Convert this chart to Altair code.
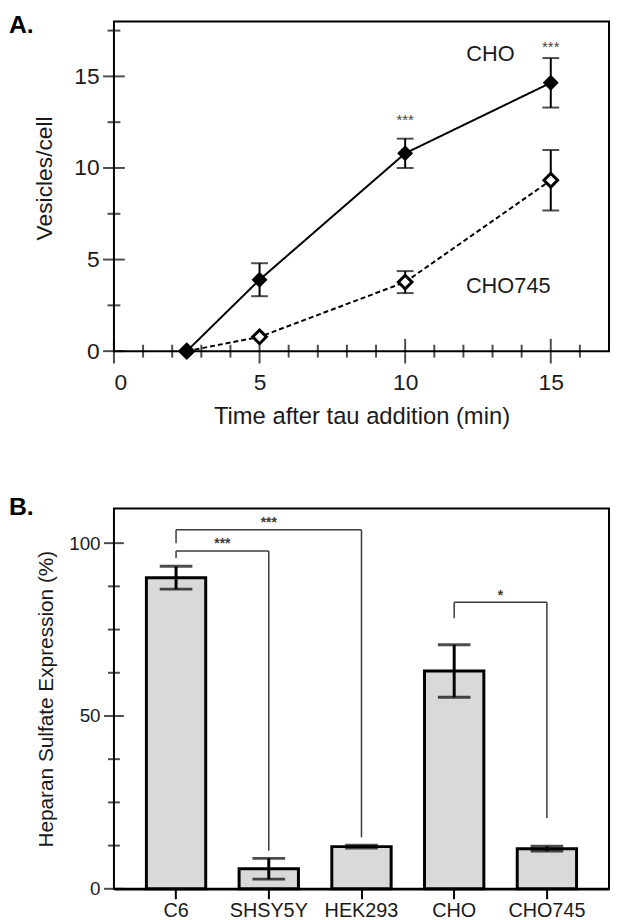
import altair as alt
import pandas as pd

# ---------------- Panel A data ----------------
times = [2.5, 5, 10, 15]
cho_mean = [0.0, 3.9, 10.8, 14.65]
cho_sem = [0.0, 0.9, 0.8, 1.35]
cho745_mean = [0.0, 0.78, 3.77, 9.33]
cho745_sem = [0.0, 0.0, 0.6, 1.65]
series_names = ["CHO", "CHO745"]

a_x_major = [0, 5, 10, 15]
a_x_minor = [1, 2, 3, 4, 6, 7, 8, 9, 11, 12, 13, 14, 16]
a_y_major = [0, 5, 10, 15]
a_y_minor = [2.5, 7.5, 12.5, 17.5]

series_label_x = [12.93, 13.54]
series_label_y = [16.2, 3.57]

sig_a_x = [10, 15]
sig_a_y = [12.6, 16.6]
sig_a_text = ["***", "***"]

panel_tags = ["A.", "B."]

# ---------------- Panel B data ----------------
cells = ["C6", "SHSY5Y", "HEK293", "CHO", "CHO745"]
hs_mean = [90.0, 5.8, 12.2, 63.0, 11.6]
hs_err = [3.3, 3.0, 0.4, 7.6, 0.7]

b_y_major = [0, 50, 100]
b_y_minor = [12.5, 25, 37.5, 62.5, 75, 87.5]

brk_left = ["C6", "C6", "CHO"]
brk_right = ["SHSY5Y", "HEK293", "CHO745"]
brk_top = [97.7, 103.9, 82.9]
brk_left_end = [95.7, 100.0, 78.3]
brk_right_end = [11.0, 14.9, 20.5]
brk_text = ["***", "***", "*"]
brk_text_y = [99.7, 105.8, 84.8]

FONT = "Liberation Sans"
TXT = "#1a1a1a"
W = 500
HA = 333
HB = 384
P_IN = 0.36
P_OUT = 0.35

# ================= Panel A =================
xA = alt.Scale(domain=[0, 17], nice=False, zero=False)
yA = alt.Scale(domain=[0, 18], nice=False)
axAx = alt.Axis(values=a_x_major, ticks=False, tickSize=0, domain=False, grid=False,
                labelFontSize=23, labelPadding=21, labelColor=TXT, labelFont=FONT,
                title="Time after tau addition (min)", titleFontSize=24, titleFontWeight="normal",
                titleColor=TXT, titleFont=FONT, titlePadding=10)
axAy = alt.Axis(values=a_y_major, ticks=False, tickSize=0, domain=False, grid=False,
                labelFontSize=23, labelPadding=15, labelColor=TXT, labelFont=FONT,
                title="Vesicles/cell", titleFontSize=23, titleFontWeight="normal",
                titleColor=TXT, titleFont=FONT, titlePadding=17, titleY=158)


def XA(f):
    return alt.X(f, type="quantitative", scale=xA, axis=axAx)


def YA(f):
    return alt.Y(f, type="quantitative", scale=yA, axis=axAy)


dfA = pd.DataFrame({
    "t": times * 2,
    "v": cho_mean + cho745_mean,
    "e": cho_sem + cho745_sem,
    "s": [series_names[0]] * len(times) + [series_names[1]] * len(times),
})
dfA["lo"] = dfA["v"] - dfA["e"]
dfA["hi"] = dfA["v"] + dfA["e"]
dfAerr = dfA[dfA["e"] > 0]

lines = alt.Chart(dfA).mark_line(color="black", strokeWidth=2).encode(
    x=XA("t"), y=YA("v"),
    strokeDash=alt.StrokeDash("s:N", scale=alt.Scale(domain=series_names, range=[[1, 0], [5, 3]]), legend=None),
    detail="s:N",
)
err_rule = alt.Chart(dfAerr).mark_rule(color="black", strokeWidth=2).encode(
    x=XA("t"), y=YA("lo"), y2="hi:Q")
err_lo = alt.Chart(dfAerr).mark_tick(orient="horizontal", size=17, thickness=2, color="black").encode(
    x=XA("t"), y=YA("lo"))
err_hi = alt.Chart(dfAerr).mark_tick(orient="horizontal", size=17, thickness=2, color="black").encode(
    x=XA("t"), y=YA("hi"))
pts745 = alt.Chart(dfA[dfA["s"] == "CHO745"]).mark_point(
    shape="diamond", filled=True, fill="white", stroke="black", strokeWidth=3, size=190, opacity=1).encode(
    x=XA("t"), y=YA("v"))
ptsCHO = alt.Chart(dfA[dfA["s"] == "CHO"]).mark_point(
    shape="diamond", filled=True, color="black", size=260, opacity=1).encode(
    x=XA("t"), y=YA("v"))

xt_major = alt.Chart(pd.DataFrame({"t": a_x_major})).mark_tick(
    orient="vertical", size=25, thickness=2, color="black").encode(x=XA("t"), y=alt.value(HA))
xt_minor = alt.Chart(pd.DataFrame({"t": a_x_minor})).mark_tick(
    orient="vertical", size=13, thickness=2, color="black").encode(x=XA("t"), y=alt.value(HA))
yt_major = alt.Chart(pd.DataFrame({"v": a_y_major})).mark_tick(
    orient="horizontal", size=22, thickness=2, color="black").encode(y=YA("v"), x=alt.value(0))
yt_minor = alt.Chart(pd.DataFrame({"v": a_y_minor})).mark_tick(
    orient="horizontal", size=13, thickness=2, color="black").encode(y=YA("v"), x=alt.value(0))

lab = alt.Chart(pd.DataFrame({"t": series_label_x, "v": series_label_y, "s": series_names})).mark_text(
    fontSize=22, font=FONT, color=TXT, align="center", baseline="middle").encode(
    x=XA("t"), y=YA("v"), text="s:N")
sigA = alt.Chart(pd.DataFrame({"t": sig_a_x, "v": sig_a_y, "s": sig_a_text})).mark_text(
    fontSize=15, font=FONT, color="#444", align="center", baseline="middle").encode(
    x=XA("t"), y=YA("v"), text="s:N")
tagA = alt.Chart(pd.DataFrame({"p": [panel_tags[0]]})).mark_text(
    fontSize=25, font=FONT, fontWeight="bold", color="black", align="left", baseline="top").encode(
    x=alt.value(-106), y=alt.value(-8), text="p:N")

panelA = alt.layer(xt_minor, xt_major, yt_minor, yt_major, lines, err_rule, err_lo, err_hi,
                   pts745, ptsCHO, lab, sigA, tagA).properties(width=W, height=HA)

# ================= Panel B =================
xB = alt.Scale(domain=cells, paddingInner=P_IN, paddingOuter=P_OUT)
yB = alt.Scale(domain=[0, 110], nice=False)
axBx = alt.Axis(title=None, labelAngle=0, ticks=True, tickSize=10, tickWidth=2, tickColor="black",
                domain=True, domainWidth=2.5, domainColor="black", grid=False,
                labelFontSize=20, labelPadding=2, labelColor=TXT, labelFont=FONT)
axBy = alt.Axis(values=b_y_major, ticks=False, tickSize=0, domain=False, grid=False,
                labelFontSize=19, labelPadding=14, labelColor=TXT, labelFont=FONT,
                title="Heparan Sulfate Expression (%)", titleFontSize=21, titleFontWeight="normal",
                titleColor=TXT, titleFont=FONT, titlePadding=12)


def XB(f):
    return alt.X(f, type="nominal", scale=xB, axis=axBx, sort=cells)


def YB(f):
    return alt.Y(f, type="quantitative", scale=yB, axis=axBy)


dfB = pd.DataFrame({"c": cells, "v": hs_mean, "e": hs_err})
dfB["lo"] = dfB["v"] - dfB["e"]
dfB["hi"] = dfB["v"] + dfB["e"]

bars = alt.Chart(dfB).mark_bar(fill="#d9d9d9", stroke="black", strokeWidth=3).encode(
    x=XB("c"), y=YB("v"))
berr = alt.Chart(dfB).mark_rule(color="black", strokeWidth=3).encode(x=XB("c"), y=YB("lo"), y2="hi:Q")
berr_lo = alt.Chart(dfB).mark_tick(orient="horizontal", size=33, thickness=3, color="black").encode(
    x=XB("c"), y=YB("lo"))
berr_hi = alt.Chart(dfB).mark_tick(orient="horizontal", size=33, thickness=3, color="black").encode(
    x=XB("c"), y=YB("hi"))

byt_major = alt.Chart(pd.DataFrame({"v": b_y_major})).mark_tick(
    orient="horizontal", size=20, thickness=2, color="black").encode(y=YB("v"), x=alt.value(0))
byt_minor = alt.Chart(pd.DataFrame({"v": b_y_minor})).mark_tick(
    orient="horizontal", size=12, thickness=2, color="black").encode(y=YB("v"), x=alt.value(0))

dfBrk = pd.DataFrame({"l": brk_left, "r": brk_right, "top": brk_top,
                      "le": brk_left_end, "re": brk_right_end,
                      "txt": brk_text, "ty": brk_text_y})
dfBrk["li"] = [cells.index(c) for c in brk_left]
dfBrk["ri"] = [cells.index(c) for c in brk_right]
dfBrk["gap"] = dfBrk["ri"] - dfBrk["li"]
dfBrk["mid"] = [cells[(a + b) // 2] for a, b in zip(dfBrk["li"], dfBrk["ri"])]

STEP = W / (len(cells) - P_IN + 2 * P_OUT)

BR = "#3a3a3a"
brk_h = alt.Chart(dfBrk).mark_rule(color=BR, strokeWidth=1.5).encode(
    x=XB("l"), x2="r:N", y=YB("top"))
brk_lv = alt.Chart(dfBrk).mark_rule(color=BR, strokeWidth=1.5).encode(
    x=XB("l"), y=YB("top"), y2="le:Q")
brk_rv = alt.Chart(dfBrk).mark_rule(color=BR, strokeWidth=1.5).encode(
    x=XB("r"), y=YB("top"), y2="re:Q")
brk_t_odd = alt.Chart(dfBrk[dfBrk["gap"] % 2 == 1]).mark_text(
    fontSize=14, font=FONT, fontWeight="bold", color=BR, align="center", baseline="middle",
    dx=STEP / 2).encode(x=XB("l"), y=YB("ty"), text="txt:N")
brk_t_even = alt.Chart(dfBrk[dfBrk["gap"] % 2 == 0]).mark_text(
    fontSize=14, font=FONT, fontWeight="bold", color=BR, align="center", baseline="middle").encode(
    x=XB("mid"), y=YB("ty"), text="txt:N")
tagB = alt.Chart(pd.DataFrame({"p": [panel_tags[1]]})).mark_text(
    fontSize=25, font=FONT, fontWeight="bold", color="black", align="left", baseline="top").encode(
    x=alt.value(-106), y=alt.value(-14), text="p:N")

panelB = alt.layer(bars, byt_minor, byt_major, berr, berr_lo, berr_hi, brk_h, brk_lv, brk_rv,
                   brk_t_odd, brk_t_even, tagB).properties(width=W, height=HB)

chart = alt.vconcat(panelA, panelB, spacing=65).properties(padding=0).configure(
    font=FONT).configure_view(stroke="black", strokeWidth=2)

chart.save("out.html", embed_options={"renderer": "svg", "actions": False})
